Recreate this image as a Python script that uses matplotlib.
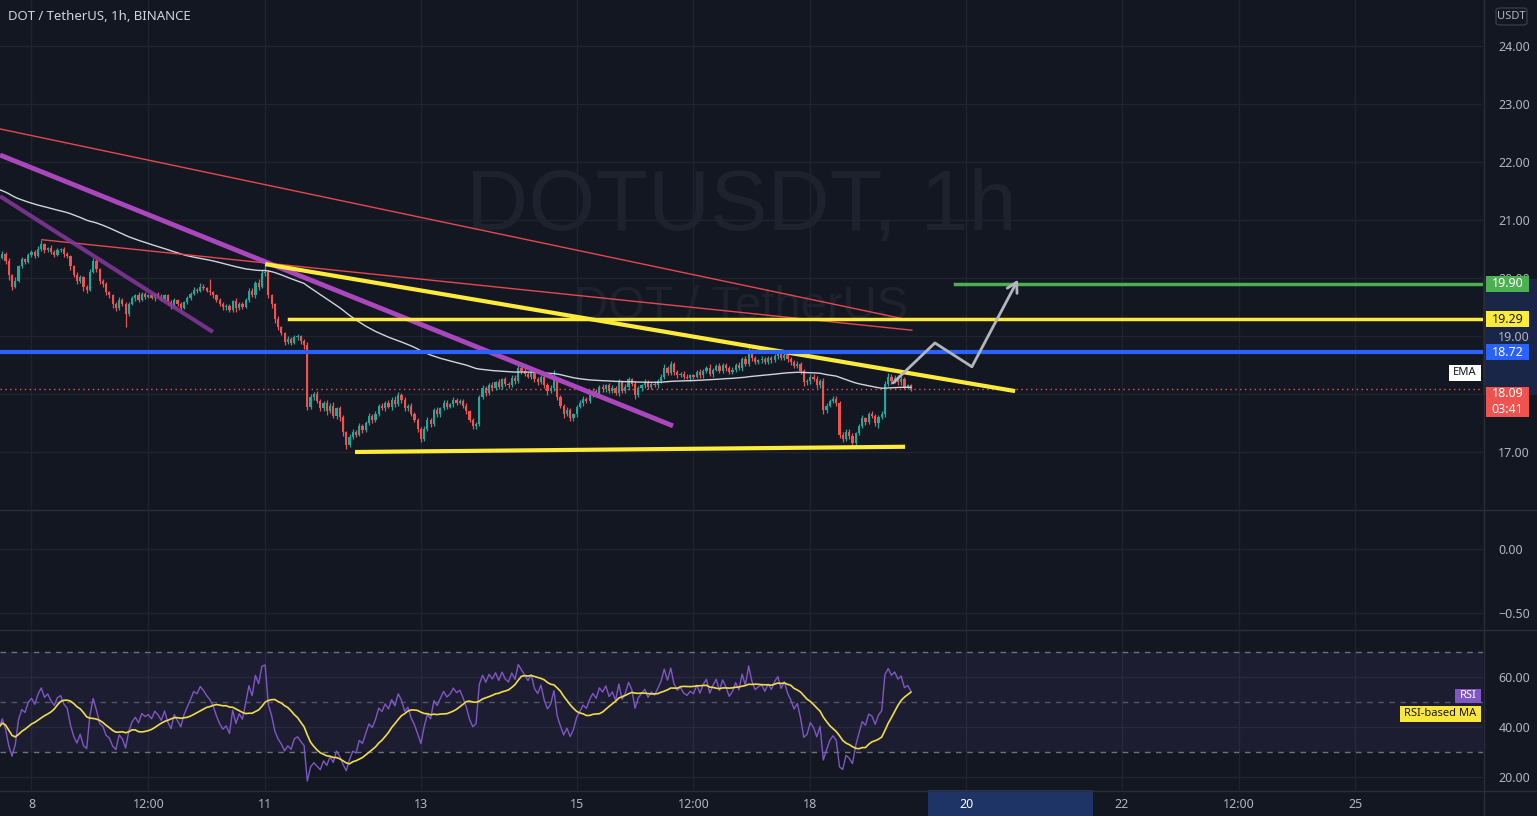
import numpy as np
import pandas as pd
import matplotlib
matplotlib.use("Agg")
import matplotlib.pyplot as plt
from matplotlib.patches import Rectangle, FancyBboxPatch
from matplotlib.lines import Line2D
import matplotlib.transforms as mtrans

plt.rcParams['font.family'] = ['Noto Sans', 'DejaVu Sans']

# ---------------- data ----------------
# hourly candles, hour index relative to Aug 8 00:00 (first candle = -10)
first_hour = -10
first_open = 20.30
closes = [
    20.35, 20.42, 20.30, 20.05, 19.85, 19.95, 20.20, 20.32, 20.28, 20.40,
    20.45, 20.38, 20.50, 20.58, 20.48, 20.52, 20.45, 20.40, 20.48, 20.50, 20.42, 20.38,
    20.20, 20.05, 19.95, 20.02, 19.85, 19.80, 20.10, 20.30, 20.15, 19.95, 19.90, 19.75,
    19.70, 19.55, 19.48, 19.62, 19.55, 19.38, 19.55, 19.65, 19.70, 19.62, 19.72, 19.68,
    19.70, 19.65, 19.72, 19.68, 19.62, 19.70, 19.58, 19.50, 19.62, 19.55, 19.48, 19.58,
    19.65, 19.72, 19.80, 19.78, 19.85, 19.82, 19.78, 19.75, 19.70, 19.62, 19.55, 19.50,
    19.52, 19.45, 19.60, 19.48, 19.55, 19.50, 19.62, 19.78, 19.70, 19.92, 19.85, 20.08,
    20.10, 19.70, 19.55, 19.30, 19.15, 19.05, 18.90, 18.95, 18.88, 18.98, 19.00, 18.92,
    18.85, 17.78, 17.95, 18.00, 17.88, 17.75, 17.85, 17.70, 17.80, 17.62, 17.75, 17.60,
    17.35, 17.12, 17.25, 17.35, 17.30, 17.45, 17.38, 17.50, 17.62, 17.55, 17.65, 17.80,
    17.75, 17.85, 17.78, 17.90, 17.82, 17.98, 17.90, 17.75, 17.80, 17.65, 17.55, 17.40,
    17.22, 17.40, 17.55, 17.48, 17.72, 17.65, 17.75, 17.85, 17.78, 17.82, 17.90, 17.85,
    17.88, 17.80, 17.70, 17.55, 17.45, 17.48, 17.95, 18.10, 18.02, 18.15, 18.10, 18.20,
    18.12, 18.25, 18.18, 18.15, 18.28, 18.22, 18.45, 18.40, 18.35, 18.30, 18.38, 18.25,
    18.20, 18.30, 18.15, 18.05, 18.10, 18.25, 17.95, 17.80, 17.65, 17.72, 17.58, 17.65,
    17.78, 17.85, 17.92, 17.88, 17.98, 18.05, 18.00, 18.12, 18.08, 18.15, 18.05, 18.10,
    18.02, 18.20, 18.05, 18.12, 18.25, 18.18, 17.98, 18.10, 18.15, 18.20, 18.12, 18.18,
    18.15, 18.22, 18.30, 18.45, 18.36, 18.52, 18.38, 18.32, 18.35, 18.30, 18.28, 18.32,
    18.30, 18.38, 18.32, 18.40, 18.45, 18.35, 18.42, 18.48, 18.40, 18.50, 18.45, 18.38,
    18.42, 18.50, 18.45, 18.60, 18.52, 18.74, 18.62, 18.55, 18.58, 18.60, 18.55, 18.62,
    18.58, 18.65, 18.70, 18.62, 18.68, 18.60, 18.55, 18.48, 18.52, 18.40, 18.20, 18.22,
    18.30, 18.25, 18.15, 18.22, 17.72, 17.80, 17.88, 17.92, 17.85, 17.30, 17.22, 17.35,
    17.28, 17.15, 17.32, 17.45, 17.58, 17.52, 17.65, 17.62, 17.50, 17.60, 17.65, 18.18,
    18.30, 18.22, 18.28, 18.20, 18.25, 18.12, 18.15, 18.09,
]
# upper / lower wick lengths in cents
wick_up = [
    3, 5, 2, 4, 2, 6, 3, 4, 2, 3,
    4, 3, 6, 7, 3, 2, 5, 3, 4, 2, 3, 2,
    2, 3, 5, 4, 2, 3, 6, 4, 3, 2, 4, 3,
    3, 2, 4, 5, 3, 4, 3, 4, 2, 5, 3, 4,
    3, 4, 2, 3, 4, 2, 3, 4, 3, 2, 4, 3,
    4, 3, 5, 3, 6, 4, 3, 20, 3, 2, 4, 3,
    3, 4, 2, 5, 3, 4, 3, 5, 4, 3, 6, 5,
    13, 4, 3, 2, 4, 3, 2, 5, 3, 4, 3, 2,
    3, 4, 5, 3, 6, 4, 3, 5, 4, 6, 3, 4,
    3, 2, 6, 4, 3, 5, 4, 3, 5, 4, 6, 3,
    4, 3, 5, 4, 6, 5, 3, 4, 3, 5, 4, 3,
    3, 4, 5, 3, 4, 6, 3, 4, 5, 3, 4, 3,
    4, 3, 5, 3, 4, 3, 4, 5, 3, 4, 6, 3,
    5, 3, 4, 3, 4, 5, 6, 3, 4, 3, 4, 5,
    4, 3, 5, 4, 6, 17, 4, 4, 3, 5, 4, 3,
    3, 4, 5, 3, 4, 5, 3, 4, 6, 3, 4, 5,
    4, 5, 3, 6, 4, 3, 5, 4, 3, 6, 4, 3,
    4, 3, 5, 6, 4, 5, 3, 4, 3, 4, 5, 3,
    3, 4, 5, 3, 4, 6, 3, 4, 5, 3, 4, 3,
    4, 3, 5, 4, 5, 6, 3, 4, 3, 5, 4, 3,
    3, 4, 5, 3, 4, 3, 4, 3, 5, 4, 3, 4,
    5, 4, 6, 3, 5, 4, 3, 5, 4, 3, 4, 5,
    4, 5, 3, 4, 5, 3, 4, 6, 3, 4, 5, 4,
    6, 5, 4, 5, 6, 4, 3, 3,
]
wick_dn = [
    4, 3, 6, 8, 6, 3, 2, 3, 4, 2,
    3, 4, 2, 3, 5, 3, 4, 3, 2, 4, 5, 3,
    6, 4, 5, 3, 8, 6, 3, 2, 4, 5, 6, 4,
    4, 6, 5, 3, 4, 22, 3, 2, 4, 3, 2, 4,
    3, 2, 4, 3, 2, 4, 5, 3, 2, 4, 3, 2,
    2, 3, 2, 4, 3, 2, 3, 4, 5, 3, 4, 5,
    5, 4, 3, 6, 4, 3, 2, 3, 2, 4, 5, 3,
    4, 5, 6, 8, 5, 4, 6, 3, 4, 2, 5, 6,
    8, 5, 4, 6, 3, 5, 4, 6, 3, 4, 5, 6,
    8, 7, 4, 3, 5, 3, 6, 4, 3, 5, 4, 3,
    3, 4, 3, 5, 4, 3, 6, 4, 5, 3, 4, 6,
    5, 3, 4, 5, 3, 4, 5, 3, 4, 3, 5, 4,
    3, 4, 5, 4, 6, 5, 3, 4, 5, 3, 4, 3,
    4, 3, 5, 4, 3, 4, 3, 5, 4, 3, 5, 4,
    5, 3, 4, 6, 3, 4, 5, 4, 6, 3, 5, 4,
    4, 3, 5, 4, 3, 4, 5, 3, 4, 5, 3, 4,
    3, 5, 4, 3, 5, 4, 6, 3, 4, 5, 3, 4,
    3, 4, 3, 5, 4, 3, 5, 4, 3, 4, 3, 5,
    4, 3, 5, 4, 3, 4, 5, 3, 4, 3, 5, 4,
    3, 4, 3, 5, 4, 3, 5, 4, 3, 5, 4, 3,
    4, 3, 5, 4, 3, 4, 5, 3, 4, 5, 6, 5,
    4, 3, 5, 4, 6, 4, 3, 4, 5, 6, 5, 3,
    5, 6, 4, 3, 4, 5, 3, 4, 6, 8, 3, 4,
    4, 5, 3, 4, 5, 3, 4, 3,
]
ema_span = 100
ema_seed = 21.55
rsi_len = 14
rsi_seed_gain = 0.036
rsi_seed_loss = 0.060
rsi_ma_len = 14

x_tick_hours = [0, 36, 72, 120, 168, 204, 240, 288, 336, 372, 408]
x_tick_labels = ['8', '12:00', '11', '13', '15', '12:00', '18', '20', '22', '12:00', '25']
price_ticks = [17, 18, 19, 20, 21, 22, 23, 24]
price_tick_labels = ['17.00', '', '19.00', '20.00', '21.00', '22.00', '23.00', '24.00']
rsi_ticks = [20, 40, 60]
pane2_ticks = [0.0, -0.5]

# drawings (hour, price) anchors
red_line_1 = ([-9.7, 269.2], [22.57, 19.29])
red_line_2 = ([3.2, 271.3], [20.66, 19.10])
purple_line_1 = ([-9.7, 55.9], [21.41, 19.07])
purple_line_2 = ([-9.7, 197.7], [22.12, 17.45])
yellow_trend = ([72.0, 303.1], [20.24, 18.05])
yellow_support = ([99.7, 269.2], [17.00, 17.09])
yellow_level, yellow_level_start = 19.29, 79.4
blue_level = 18.72
green_level, green_level_start = 19.90, 284.6
arrow_path_h = [265.5, 278.4, 289.8, 304.0]
arrow_path_p = [18.19, 18.88, 18.47, 19.97]
last_price = 18.09
countdown = '03:41'
highlight_hours = (276.3, 327.1)
highlight_prices = (17.98, 19.99)

# ---------------- derived ----------------
n = len(closes)
hours = np.arange(first_hour, first_hour + n)
c = np.array(closes)
o = np.array([first_open] + closes[:-1])
hi = np.maximum(o, c) + np.array(wick_up) / 100
lo = np.minimum(o, c) - np.array(wick_dn) / 100

alpha = 2 / (ema_span + 1)
ema = []
e = ema_seed
for v in c:
    e = alpha * v + (1 - alpha) * e
    ema.append(e)
ema = np.array(ema)

ag, al = rsi_seed_gain, rsi_seed_loss
rsi = []
prev = first_open
for v in c:
    d = v - prev
    prev = v
    ag = (ag * (rsi_len - 1) + max(d, 0)) / rsi_len
    al = (al * (rsi_len - 1) + max(-d, 0)) / rsi_len
    rsi.append(100 - 100 / (1 + ag / al))
rsi = np.array(rsi)
rsi_ma = pd.Series(rsi).rolling(rsi_ma_len, min_periods=1).mean().values

# ---------------- style ----------------
BG = '#131722'
GRID = '#1f2330'
TXT = '#b2b5be'
SEP = '#2a2e39'
UP = '#26a69a'
DN = '#ef5350'

W, H = 1537, 816
fig = plt.figure(figsize=(W / 100, H / 100), dpi=100)
fig.patch.set_facecolor(BG)

def rect(x0, y0, x1, y1):
    return [x0 / W, 1 - y1 / H, (x1 - x0) / W, (y1 - y0) / H]

PX_R = 1483
ax = fig.add_axes(rect(0, 0, PX_R, 509))
ax2 = fig.add_axes(rect(0, 510, PX_R, 629), sharex=ax)
ax3 = fig.add_axes(rect(0, 630, PX_R, 790), sharex=ax)

xl = (-31.5 / 3.245, (PX_R - 31.5) / 3.245)
for a in (ax, ax2, ax3):
    a.set_facecolor(BG)
    for s in a.spines.values():
        s.set_visible(False)
    a.yaxis.tick_right()
    a.tick_params(axis='y', length=0, pad=11, labelcolor=TXT, labelsize=9)
    a.tick_params(axis='x', length=0)
    for t in x_tick_hours:
        a.axvline(t, color=GRID, lw=1, zorder=0)
ax.set_xlim(*xl)
ax.set_ylim(16.017, 24.793)
ax2.set_ylim(-0.623, 0.30)
ax3.set_ylim(14.8, 78.8)
plt.setp(ax.get_xticklabels(), visible=False)
plt.setp(ax2.get_xticklabels(), visible=False)

ax.set_yticks(price_ticks)
ax.set_yticklabels(price_tick_labels)
for v in price_ticks:
    ax.axhline(v, color=GRID, lw=1, zorder=0)
ax2.set_yticks(pane2_ticks)
ax2.set_yticklabels(['0.00', '\u22120.50'])
for v in pane2_ticks:
    ax2.axhline(v, color=GRID, lw=1, zorder=0)
ax3.set_yticks(rsi_ticks)
ax3.set_yticklabels([f'{v:.2f}' for v in rsi_ticks])
for v in rsi_ticks:
    ax3.axhline(v, color=GRID, lw=1, zorder=0)

ax3.set_xticks(x_tick_hours)
ax3.set_xticklabels(x_tick_labels)
ax3.tick_params(axis='x', pad=6, labelcolor=TXT, labelsize=9)
ax3.get_xticklabels()[7].set_color('#ffffff')
ax3.set_xlim(*xl)

# highlight bands on the axis strips
ax3.add_patch(Rectangle((highlight_hours[0], 0), highlight_hours[1] - highlight_hours[0], 26 / H,
                        transform=mtrans.blended_transform_factory(ax3.transData, fig.transFigure),
                        facecolor='#1e3366', edgecolor='none', clip_on=False, zorder=0.5))
ax.add_patch(Rectangle((PX_R / W, highlight_prices[0]), (W - PX_R) / W, highlight_prices[1] - highlight_prices[0],
                       transform=mtrans.blended_transform_factory(fig.transFigure, ax.transData),
                       facecolor='#1a2648', edgecolor='none', clip_on=False, zorder=0.5))

# watermark
ax.text(0.5, 0.592, 'DOTUSDT, 1h', transform=ax.transAxes, ha='center', va='center',
        fontsize=62, color='#1e222e', family=['Liberation Sans', 'DejaVu Sans'], zorder=0.1)
ax.text(0.5, 0.397, 'DOT / TetherUS', transform=ax.transAxes, ha='center', va='center',
        fontsize=34, color='#1e222e', family=['Liberation Sans', 'DejaVu Sans'], zorder=0.1)

# candles
cols = np.where(c >= o, UP, DN)
ax.vlines(hours, lo, hi, colors=cols, lw=0.9, zorder=3)
ax.bar(hours, np.maximum(np.abs(c - o), 0.012), bottom=np.minimum(o, c), width=0.68,
       color=cols, linewidth=0, zorder=3)
ax.plot(hours, ema, color='#d1d4dc', lw=1, zorder=3.5)

# drawings
ax.plot(*red_line_1, color='#e5484d', lw=1, zorder=4)
ax.plot(*red_line_2, color='#e5484d', lw=1, zorder=4)
ax.plot(*purple_line_1, color='#86379c', lw=3, alpha=0.85, zorder=4, solid_capstyle='butt')
ax.plot(*purple_line_2, color='#ab47bc', lw=3.5, zorder=4, solid_capstyle='butt')
ax.plot(*yellow_trend, color='#ffeb3b', lw=3, zorder=4, solid_capstyle='butt')
ax.plot(*yellow_support, color='#ffeb3b', lw=3, zorder=4, solid_capstyle='butt')
ax.plot([yellow_level_start, xl[1]], [yellow_level, yellow_level], color='#ffeb3b', lw=2.5, zorder=4)
ax.axhline(blue_level, color='#2962ff', lw=3, zorder=4)
ax.plot([green_level_start, xl[1]], [green_level, green_level], color='#4caf50', lw=2.5, zorder=4)
ax.axhline(last_price, color=DN, lw=1, ls=(0, (1, 2.5)), zorder=2)
ax.plot(arrow_path_h[:-1], arrow_path_p[:-1], color='#b2b5be', lw=2, zorder=5, solid_capstyle='round')
ax.annotate('', xy=(arrow_path_h[-1], arrow_path_p[-1]), xytext=(arrow_path_h[-2], arrow_path_p[-2]),
            arrowprops=dict(arrowstyle='->,head_length=0.7,head_width=0.4', color='#b2b5be', lw=2,
                            shrinkA=0, shrinkB=0), zorder=5)

# RSI pane
ax3.axhspan(30, 70, color='#7e57c2', alpha=0.1, lw=0, zorder=0.2)
for lv, al_ in ((70, 0.9), (50, 0.6), (30, 0.9)):
    ax3.axhline(lv, color='#787b86', lw=1, ls=(0, (4, 4)), alpha=al_, zorder=1)
ax3.plot(hours, rsi, color='#7e57c2', lw=1, zorder=3)
ax3.plot(hours, rsi_ma, color='#f0dc4a', lw=1.2, zorder=3.5)

# axis price labels
def price_label(a, yval, text, fc, tc, hpx=16, bold=True):
    tr = mtrans.blended_transform_factory(fig.transFigure, a.transData)
    y0, y1 = a.get_ylim()
    ppx = (a.get_position().height * H) / (y1 - y0)
    hdat = hpx / ppx
    a.add_patch(Rectangle((1486 / W, yval - hdat / 2), 43 / W, hdat, transform=tr,
                          facecolor=fc, edgecolor='none', clip_on=False, zorder=10))
    a.text(1507.5 / W, yval, text, transform=tr, ha='center', va='center', color=tc,
           fontsize=9, fontweight='bold' if bold else 'normal', clip_on=False, zorder=11,
           linespacing=1.3)

price_label(ax, green_level, '19.90', '#4caf50', '#ffffff')
price_label(ax, yellow_level, '19.29', '#ffeb3b', '#131722', bold=False)
price_label(ax, blue_level, '18.72', '#2962ff', '#ffffff')
price_label(ax, last_price - 0.22, '18.09\n' + countdown, DN, '#ffffff', hpx=30)

# legend-like tags
def tag(x0, y0, x1, y1, text, fc, tc, bold=False):
    fig.add_artist(Rectangle((x0 / W, 1 - y1 / H), (x1 - x0) / W, (y1 - y0) / H,
                             transform=fig.transFigure, facecolor=fc, edgecolor='none', zorder=10))
    fig.text((x0 + x1) / 2 / W, 1 - (y0 + y1) / 2 / H, text, ha='center', va='center', color=tc,
             fontsize=8, fontweight='bold' if bold else 'normal', zorder=11)

tag(1449, 365, 1481, 381, 'EMA', '#ffffff', '#131722')
tag(1455, 689, 1481, 703, 'RSI', '#7e57c2', '#ffffff', bold=True)
tag(1400, 706, 1481, 722, 'RSI-based MA', '#fbe63e', '#131722')

# USDT box
fig.add_artist(FancyBboxPatch((1496 / W, 1 - 25 / H), 31 / W, 17 / H, boxstyle='round,pad=0,rounding_size=0.003',
                              transform=fig.transFigure, facecolor=BG, edgecolor='#363a45', lw=1, zorder=10))
fig.text(1511.5 / W, 1 - 16.5 / H, 'USDT', ha='center', va='center', color=TXT, fontsize=8, zorder=11)

# title
fig.text(8 / W, 1 - 16 / H, 'DOT / TetherUS, 1h, BINANCE', ha='left', va='center', color='#d1d4dc',
         fontsize=9.5, fontweight='semibold')

# separators
for yy in (509.5, 629.5, 790.5):
    fig.add_artist(Line2D([0, 1], [1 - yy / H] * 2, color=SEP, lw=1, transform=fig.transFigure, zorder=9))
fig.add_artist(Line2D([(PX_R + 0.5) / W] * 2, [0, 1], color=SEP, lw=1, transform=fig.transFigure, zorder=9))

fig.savefig('out.png', dpi=100, facecolor=BG)
